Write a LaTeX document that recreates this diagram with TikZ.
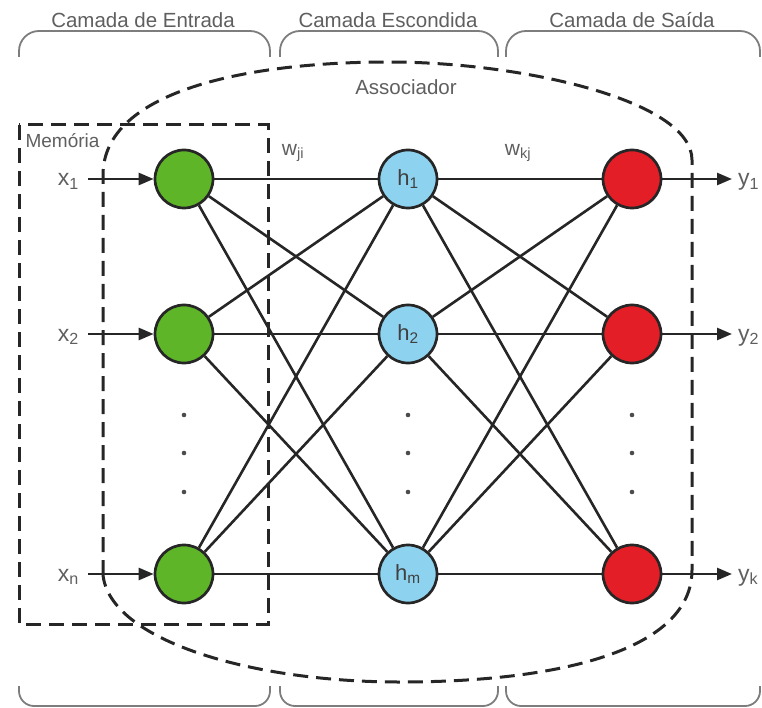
\documentclass[tikz,border=0pt]{standalone}
\usepackage{fontspec}
\setmainfont{Liberation Sans}
\usetikzlibrary{arrows.meta}
\definecolor{inputgreen}{RGB}{94, 181, 40}
\definecolor{hiddenblue}{RGB}{141, 211, 240}
\definecolor{outputred}{RGB}{228, 30, 38}
\definecolor{labelgray}{RGB}{95, 95, 95}
\definecolor{bracegray}{RGB}{125, 125, 125}

\begin{document}
\begin{tikzpicture}[
    x=1pt, y=-1pt,
    neuron/.style={circle, draw=black!85, line width=2.7pt, minimum size=58pt, inner sep=0pt, font=\fontsize{22}{26}\selectfont, text=black!75},
    inneuron/.style={neuron, fill=inputgreen},
    hidneuron/.style={neuron, fill=hiddenblue},
    outneuron/.style={neuron, fill=outputred},
    edge/.style={line width=2.6pt, draw=black!85},
    arrow/.style={edge, -{Triangle[length=15pt, width=12pt]}},
    iolabel/.style={font=\fontsize{23}{26}\selectfont, text=labelgray, inner sep=0pt},
    title/.style={font=\fontsize{20.5}{24}\selectfont, text=labelgray},
    region/.style={line width=3pt, draw=black!85, dash pattern=on 15pt off 8pt},
    brace/.style={line width=1.8pt, draw=bracegray, rounded corners=20pt}
]
\useasboundingbox (0,0) rectangle (762,708);

% Layers
\foreach \n/\yy/\xs/\hs/\ys in {1/179/1/1/1, 2/334/2/2/2, 3/574/n/m/k} {
    \node[inneuron] (i\n) at (184,\yy) {};
    \node[hidneuron] (h\n) at (408,\yy) {h\textsubscript{\hs}};
    \node[outneuron] (o\n) at (632,\yy) {};
    \node[iolabel, anchor=base east] (lx\n) at (79,\yy+7) {x\textsubscript{\xs}};
    \node[iolabel, anchor=base west] (ly\n) at (738,\yy+7) {y\textsubscript{\ys}};
    \draw[arrow] ([xshift=9pt]lx\n.east |- i\n) -- (i\n);
    \draw[arrow] (o\n) -- ([xshift=-6pt]ly\n.west |- o\n);
}

% Connections
\foreach \a in {1,2,3}
    \foreach \b in {1,2,3} {
        \draw[edge] (i\a) -- (h\b);
        \draw[edge] (h\a) -- (o\b);
    }

% Dots between rows
\foreach \cx in {184,408,632}
    \foreach \dy in {415,453,492}
        \fill[black!70] (\cx,\dy) circle (2.3pt);

% Weights
\node[iolabel, font=\fontsize{21}{24}\selectfont] (wji) at (293,153) {w\textsubscript{ji}};
\node[iolabel, font=\fontsize{21}{24}\selectfont] (wkj) at (518,153) {w\textsubscript{kj}};

% Memory and associator regions
\draw[region] (19,125) rectangle (268,624);
\node[title, anchor=west, font=\fontsize{19}{22}\selectfont] (mem) at (22,141) {Memória};
\draw[region] (103,575) -- (103,175) .. controls (103,90) and (250,62) .. (389,62)
    .. controls (520,62) and (692,100) .. (692,160) -- (692,570)
    .. controls (692,650) and (560,682) .. (400,682)
    .. controls (250,682) and (110,640) .. (103,575);
\node[title] (assoc) at (406,87) {Associador};

% Layer titles and braces
\node[title] (tin) at (143,20) {Camada de Entrada};
\node[title] (thid) at (388,20) {Camada Escondida};
\node[title] (tout) at (632,20) {Camada de Saída};
\foreach \l/\r in {19/270, 280/498, 506/760} {
    \draw[brace] (\l,57) -- (\l,31) -- (\r,31) -- (\r,57);
    \draw[brace, rounded corners=15pt] (\l,686) -- (\l,706) -- (\r,706) -- (\r,686);
}

\end{tikzpicture}
\end{document}
